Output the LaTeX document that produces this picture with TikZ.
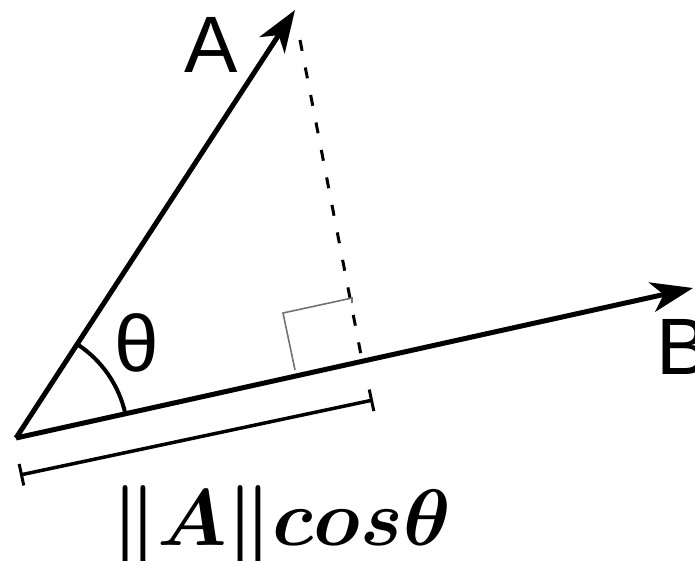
\documentclass[tikz,border=0pt]{standalone}
\usepackage{fontspec}
\usepackage{graphicx}
\newfontfamily\lblfont{Liberation Sans}
\usetikzlibrary{arrows.meta}
\tikzset{
  vec/.style={line width=5pt, -{Stealth[length=42pt,width=30pt,inset=12pt]}},
  anglearc/.style={line width=4pt},
  projline/.style={line width=3pt, dash pattern=on 11pt off 17pt},
  rightmark/.style={line width=1.6pt, draw=black!55},
  bracket/.style={line width=3.5pt, {Bar[width=22pt,line width=3pt]}-{Bar[width=22pt,line width=3pt]}},
  biglbl/.style={font=\lblfont\fontsize{80}{90}\selectfont, inner sep=0pt}
}
\begin{document}
\begin{tikzpicture}[x=1pt,y=-1pt]
\useasboundingbox (0,0) rectangle (695,560);
\coordinate (O) at (16,438);
\coordinate (A) at (295,10);
\coordinate (B) at (693,288);
\coordinate (F) at (362,360);
\coordinate (R1) at (295,370);
\coordinate (R2) at (283,313);
\coordinate (R3) at (352,298);
\coordinate (L) at (20,475);
\coordinate (R) at (373,400);
% projection
\draw[projline] ([shift={(5,30)}]A) -- (F);
\draw[rightmark] (R1) -- (R2) -- (R3) -- (352,303);
% vectors
\draw[vec] (O) -- (A);
\draw[vec] (O) -- (B);
% angle
\draw[anglearc] ([shift={(-12.5:112)}]O) arc[start angle=-12.5, end angle=-56.9, radius=112];
% bracket
\draw[bracket] (L) -- (R);
% labels
\node[biglbl] (la) at (211,45) {A};
\node[biglbl] (lb) at (683,347) {B};
\node[biglbl] (lt) at (137,343) {θ};
\node[inner sep=0pt, anchor=base] (lproj) at (281,545) {\scalebox{8}{\boldmath$\|A\|cos\theta$}};
\end{tikzpicture}
\end{document}
